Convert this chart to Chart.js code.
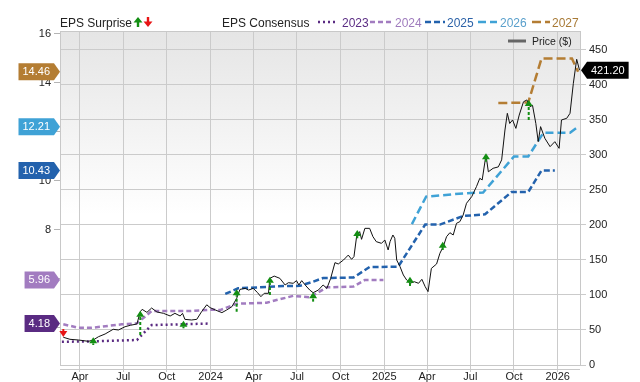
<!DOCTYPE html>
<html><head><meta charset="utf-8">
<script src="https://cdn.jsdelivr.net/npm/chart.js@4.4.1/dist/chart.umd.min.js"></script>
<style>html,body{margin:0;padding:0;background:#fff;}#wrap{width:640px;height:382px;}</style>
</head><body><div id="wrap"><canvas id="c" width="640" height="382"></canvas></div>
<script>
// ---------- DATA ----------
const priceDates = ["2023-02-25","2023-03-11","2023-03-29","2023-04-19","2023-04-29","2023-05-10","2023-05-24","2023-06-10","2023-06-21","2023-07-05",
"2023-07-16","2023-07-30","2023-08-06","2023-08-10","2023-08-20","2023-08-30","2023-09-10","2023-09-24","2023-10-08","2023-10-18",
"2023-10-29","2023-11-03","2023-11-08","2023-11-22","2023-12-03","2023-12-13","2023-12-24","2023-12-31","2024-01-11","2024-01-25",
"2024-02-04","2024-02-15","2024-02-25","2024-03-03","2024-03-14","2024-03-21","2024-03-31","2024-04-09","2024-04-16","2024-04-23",
"2024-05-02","2024-05-05","2024-05-14","2024-05-26","2024-06-06","2024-06-13","2024-06-23","2024-06-30","2024-07-05","2024-07-11",
"2024-07-20","2024-07-28","2024-08-04","2024-08-15","2024-08-25","2024-09-02","2024-09-10","2024-09-19","2024-09-26","2024-10-07",
"2024-10-17","2024-10-24","2024-10-29","2024-11-04","2024-11-10","2024-11-14","2024-11-21","2024-12-01","2024-12-08","2024-12-15",
"2024-12-26","2025-01-02","2025-01-09","2025-01-13","2025-01-19","2025-01-23","2025-01-27","2025-02-03","2025-02-10","2025-02-17",
"2025-02-24","2025-03-05","2025-03-14","2025-03-21","2025-03-28","2025-04-03","2025-04-10","2025-04-21","2025-04-28","2025-05-05",
"2025-05-12","2025-05-19","2025-05-26","2025-06-02","2025-06-09","2025-06-16","2025-06-23","2025-07-04","2025-07-14","2025-07-21",
"2025-07-26","2025-08-03","2025-08-08","2025-08-18","2025-08-29","2025-09-05","2025-09-12","2025-09-17","2025-09-22","2025-09-28",
"2025-10-05","2025-10-12","2025-10-21","2025-10-28","2025-11-04","2025-11-09","2025-11-16","2025-11-21","2025-11-26","2025-12-05",
"2025-12-16","2025-12-26","2026-01-04","2026-01-09","2026-01-20","2026-01-27","2026-02-03","2026-02-10","2026-02-16"];
const priceValues = [39.6,36.7,35.7,33.8,35.7,40.4,44.3,51,50,54.7,
56.7,58.6,76,79.5,75.2,81.4,75.7,73.8,70,73.8,
70,73.8,65.2,64.3,65.2,76,86,82,78.6,74.8,
78.6,83.3,95.2,108,109.5,107,109.5,103.3,97.6,102.4,
102.4,123.8,127,123.8,114.3,117.6,116.7,120.5,114.3,120.5,
112.9,107,103.3,107,114.3,109.5,123.8,146.2,144.3,150,
157,151,154.8,185.7,190.5,179.5,195.2,195.2,183.3,176.2,
173.8,178.6,164.3,176.2,185.7,181,150,140.5,128.6,121.4,
116.7,119,116.7,122.4,111.9,104.8,138,144.3,159.6,169,
183.3,189,185.7,202.4,204.8,214.3,231,240.5,254.8,266.7,
264.3,300,276,281,283,293,335.7,359.5,345,350,
338,357,376,378.6,369,371,345,319,340.5,323.8,
311.9,319,309.5,350,352.4,359.5,402.4,436.7,421.2];

const eps2023Dates = ["2023-02-22","2023-04-20","2023-07-30","2023-08-30","2023-12-26"];
const eps2023Values = [3.44,3.45,3.51,4.12,4.18];

const eps2024Dates = ["2023-02-25","2023-03-29","2023-04-26","2023-06-28","2023-07-30","2023-08-30","2023-11-15","2024-01-04","2024-01-21","2024-02-25","2024-04-28","2024-05-19","2024-06-23","2024-07-28","2024-09-02","2024-10-28","2024-11-21","2024-12-30"];
const eps2024Values = [4.15,4.01,4.01,4.15,4.19,4.69,4.69,4.75,4.73,4.99,5.03,5.14,5.31,5.25,5.66,5.69,5.96,5.96];

const eps2025Dates = ["2024-02-01","2024-02-28","2024-04-14","2024-06-02","2024-07-07","2024-08-04","2024-08-25","2024-10-28","2024-12-01","2025-01-30","2025-03-28","2025-04-28","2025-06-16","2025-08-01","2025-09-26","2025-10-31","2025-11-28","2025-12-26"];
const eps2025Values = [5.39,5.62,5.66,5.71,5.72,5.89,6.04,6.06,6.49,6.5,8.22,8.22,8.57,8.64,9.55,9.55,10.43,10.43];

const eps2026Dates = ["2025-02-28","2025-03-30","2025-06-20","2025-07-28","2025-10-01","2025-10-31","2025-12-02","2026-01-27","2026-02-13"];
const eps2026Values = [8.24,9.36,9.5,9.53,11.0,11.0,11.97,11.97,12.21];

const eps2027Dates = ["2025-08-29","2025-10-31","2025-11-28","2026-01-31","2026-02-13"];
const eps2027Values = [13.18,13.2,15.0,15.0,14.46];

// EPS surprise markers, drawn at price level (from -> to)
const surpriseDates = ["2023-02-25","2023-04-29","2023-08-06","2023-11-05","2024-02-25","2024-05-05","2024-08-04","2024-11-05","2025-02-24","2025-05-04","2025-08-03","2025-11-01"];
const surpriseFrom = [51.4,28.6,42.9,52.4,76.1,100,90.5,181,112.9,164.3,290.5,350];
const surpriseTo   = [40,39.5,77.6,63.3,108.1,126.2,104,192.9,126.2,176.2,302.4,378.6];

const tickDates  = ["2023-04-01","2023-07-01","2023-10-01","2024-01-01","2024-04-01","2024-07-01","2024-10-01","2025-01-01","2025-04-01","2025-07-01","2025-10-01","2026-01-01"];
const tickLabels = ["Apr","Jul","Oct","2024","Apr","Jul","Oct","2025","Apr","Jul","Oct","2026"];
const leftTicks  = [4,6,8,10,12,14,16];
const rightTicks = [0,50,100,150,200,250,300,350,400,450];
const seriesNames = ["2023","2024","2025","2026","2027"];

// ---------- STYLE ----------
const FONT = '"Liberation Sans", Arial, Helvetica, sans-serif';
const COLORS = {"2023":"#5a2b82","2024":"#a27cc0","2025":"#2362ad","2026":"#3fa2d6","2027":"#b47d33"};
const TEXTCOL = {"2023":"#5b2d84","2024":"#9f7bbd","2025":"#2c62a8","2026":"#5aa0cc","2027":"#a87a36"};
const DASH = {"2023":[2,3],"2024":[5,3],"2025":[6,3],"2026":[8,4],"2027":[9,4]};
const GREEN = "#138e13", RED = "#e81515";

const dayNum = s => { const [y,m,d] = s.split('-').map(Number); return (Date.UTC(y,m-1,d) - Date.UTC(2023,0,1)) / 864e5; };
const pts = (ds, vs) => ds.map((d,i) => ({x: dayNum(d), y: vs[i]}));

const epsSets = {
  "2023": [eps2023Dates, eps2023Values],
  "2024": [eps2024Dates, eps2024Values],
  "2025": [eps2025Dates, eps2025Values],
  "2026": [eps2026Dates, eps2026Values],
  "2027": [eps2027Dates, eps2027Values]
};

Chart.defaults.font.family = FONT;
Chart.defaults.color = '#222';

const datasets = seriesNames.map(n => ({
  label: n, data: pts(epsSets[n][0], epsSets[n][1]), yAxisID: 'y',
  borderColor: COLORS[n], borderWidth: 2.5, borderDash: DASH[n], pointRadius: 0,
  fill: false, tension: 0, order: 2
}));
datasets.push({
  label: 'Price ($)', data: pts(priceDates, priceValues), yAxisID: 'y1',
  borderColor: '#111', borderWidth: 1, pointRadius: 0, fill: false, tension: 0, order: 1
});

function arrow(ctx, x, yBase, yTip, color) {
  const dir = Math.sign(yTip - yBase) || -1;
  const hh = 6, hw = 4;
  ctx.save();
  ctx.strokeStyle = color; ctx.lineWidth = 2; ctx.setLineDash([3,2]);
  ctx.beginPath(); ctx.moveTo(x, yBase); ctx.lineTo(x, yTip - dir*hh); ctx.stroke();
  ctx.setLineDash([]);
  ctx.fillStyle = color;
  ctx.beginPath(); ctx.moveTo(x, yTip); ctx.lineTo(x-hw, yTip - dir*hh); ctx.lineTo(x+hw, yTip - dir*hh); ctx.closePath(); ctx.fill();
  ctx.restore();
}

function leftBadge(ctx, tip, y, text, color) {
  ctx.save();
  ctx.font = '11px ' + FONT;
  const w = ctx.measureText(text).width, depth = 6, pad = 4, h = 17;
  const right = tip - depth, left = right - w - 2*pad;
  ctx.fillStyle = color;
  ctx.beginPath(); ctx.moveTo(left, y-h/2); ctx.lineTo(right, y-h/2); ctx.lineTo(tip, y); ctx.lineTo(right, y+h/2); ctx.lineTo(left, y+h/2); ctx.closePath(); ctx.fill();
  ctx.fillStyle = '#fff'; ctx.textAlign = 'center'; ctx.textBaseline = 'middle';
  ctx.fillText(text, (left+right)/2, y+0.5);
  ctx.restore();
}
function rightBadge(ctx, tip, y, text, color) {
  ctx.save();
  ctx.font = '11px ' + FONT;
  const w = ctx.measureText(text).width, depth = 6, pad = 4, h = 17;
  const left = tip + depth, right = left + w + 2*pad;
  ctx.fillStyle = color;
  ctx.beginPath(); ctx.moveTo(tip, y); ctx.lineTo(left, y-h/2); ctx.lineTo(right, y-h/2); ctx.lineTo(right, y+h/2); ctx.lineTo(left, y+h/2); ctx.closePath(); ctx.fill();
  ctx.fillStyle = '#fff'; ctx.textAlign = 'center'; ctx.textBaseline = 'middle';
  ctx.fillText(text, (left+right)/2, y+0.5);
  ctx.restore();
}

const decor = {
  id: 'decor',
  beforeDraw(chart) {
    const {ctx, chartArea: a} = chart;
    const g = ctx.createLinearGradient(0, a.top, 0, a.bottom);
    g.addColorStop(0, '#e5e5e5'); g.addColorStop(0.55, '#ffffff'); g.addColorStop(1, '#ffffff');
    ctx.save(); ctx.fillStyle = g; ctx.fillRect(a.left, a.top, a.right-a.left, a.bottom-a.top); ctx.restore();
  },
  afterDatasetsDraw(chart) {
    const {ctx, scales} = chart;
    surpriseDates.forEach((d,i) => {
      const x = scales.x.getPixelForValue(dayNum(d));
      const yb = scales.y1.getPixelForValue(surpriseFrom[i]);
      const yt = scales.y1.getPixelForValue(surpriseTo[i]);
      arrow(ctx, x, yb, yt, surpriseTo[i] >= surpriseFrom[i] ? GREEN : RED);
    });
  },
  afterDraw(chart) {
    const {ctx, chartArea: a, scales} = chart;
    ctx.save();
    // plot frame
    ctx.strokeStyle = '#c8c8c8'; ctx.lineWidth = 1;
    ctx.beginPath(); ctx.moveTo(a.left, a.top+0.5); ctx.lineTo(a.right, a.top+0.5); ctx.stroke();
    ctx.beginPath(); ctx.moveTo(a.left, a.bottom+4.5); ctx.lineTo(a.right, a.bottom+4.5); ctx.stroke();
    // top legend
    ctx.font = '12px ' + FONT; ctx.textBaseline = 'alphabetic'; ctx.textAlign = 'left';
    ctx.fillStyle = '#222';
    ctx.fillText('EPS Surprise', 60, 27);
    ctx.fillText('EPS Consensus', 222, 27);
    // legend arrows
    ctx.fillStyle = GREEN;
    ctx.beginPath(); ctx.moveTo(138, 17); ctx.lineTo(133.5, 22.5); ctx.lineTo(142.5, 22.5); ctx.closePath(); ctx.fill();
    ctx.fillRect(136.8, 22, 2.4, 5);
    ctx.fillStyle = RED;
    ctx.beginPath(); ctx.moveTo(148, 27); ctx.lineTo(143.5, 21.5); ctx.lineTo(152.5, 21.5); ctx.closePath(); ctx.fill();
    ctx.fillRect(146.8, 17, 2.4, 5);
    const mk = {"2023":[318,337,342],"2024":[370,393,395],"2025":[425,445,447],"2026":[478,497,500],"2027":[532,550,552]};
    seriesNames.forEach(n => {
      const [x0,x1,tx] = mk[n];
      ctx.strokeStyle = COLORS[n]; ctx.lineWidth = 2.5; ctx.setLineDash(DASH[n]);
      ctx.beginPath(); ctx.moveTo(x0, 22); ctx.lineTo(x1, 22); ctx.stroke();
      ctx.setLineDash([]);
      ctx.fillStyle = TEXTCOL[n]; ctx.fillText(n, tx, 27);
    });
    // price legend inside plot
    ctx.strokeStyle = '#666'; ctx.lineWidth = 3;
    ctx.beginPath(); ctx.moveTo(508, 41); ctx.lineTo(526, 41); ctx.stroke();
    ctx.font = '10.5px ' + FONT; ctx.fillStyle = '#222';
    ctx.fillText('Price ($)', 532, 45);
    ctx.restore();
    // badges
    seriesNames.forEach(n => {
      const vals = epsSets[n][1];
      const v = vals[vals.length-1];
      leftBadge(ctx, a.left, scales.y.getPixelForValue(v), v.toFixed(2), COLORS[n]);
    });
    const pv = priceValues[priceValues.length-1];
    rightBadge(ctx, a.right+1, scales.y1.getPixelForValue(pv), pv.toFixed(2), '#000');
  }
};

new Chart(document.getElementById('c'), {
  type: 'line',
  data: { datasets },
  options: {
    responsive: false, animation: false, devicePixelRatio: 1,
    layout: { padding: { top: 31, left: 0, right: 0, bottom: 0 } },
    plugins: { legend: { display: false }, tooltip: { enabled: false }, title: { display: false } },
    scales: {
      x: {
        type: 'linear', min: dayNum('2023-02-18'), max: dayNum('2026-02-17'),
        afterBuildTicks: s => { s.ticks = tickDates.map(d => ({ value: dayNum(d) })); },
        ticks: { callback: (v, i) => tickLabels[i], font: { size: 11 }, color: '#222', maxRotation: 0, autoSkip: false, padding: -2 },
        grid: { color: '#cbcbcb', tickLength: 7, drawTicks: true },
        border: { color: '#c8c8c8' },
        afterFit: s => { s.height = 17; }
      },
      y: {
        position: 'left', min: 2.49, max: 16.12,
        afterBuildTicks: s => { s.ticks = leftTicks.map(v => ({ value: v })); },
        ticks: { font: { size: 11 }, color: '#222', padding: 3 },
        grid: { drawOnChartArea: false, tickLength: 6, color: '#b5b5b5' },
        border: { color: '#c8c8c8' },
        afterFit: s => { s.width = 60; }
      },
      y1: {
        position: 'right', min: 0, max: 477.1,
        afterBuildTicks: s => { s.ticks = rightTicks.map(v => ({ value: v })); },
        ticks: { font: { size: 11 }, color: '#222', padding: 3 },
        grid: { color: '#cbcbcb', tickLength: 6 },
        border: { color: '#c8c8c8' },
        afterFit: s => { s.width = 60; }
      }
    }
  },
  plugins: [decor]
});
</script>
</body></html>
